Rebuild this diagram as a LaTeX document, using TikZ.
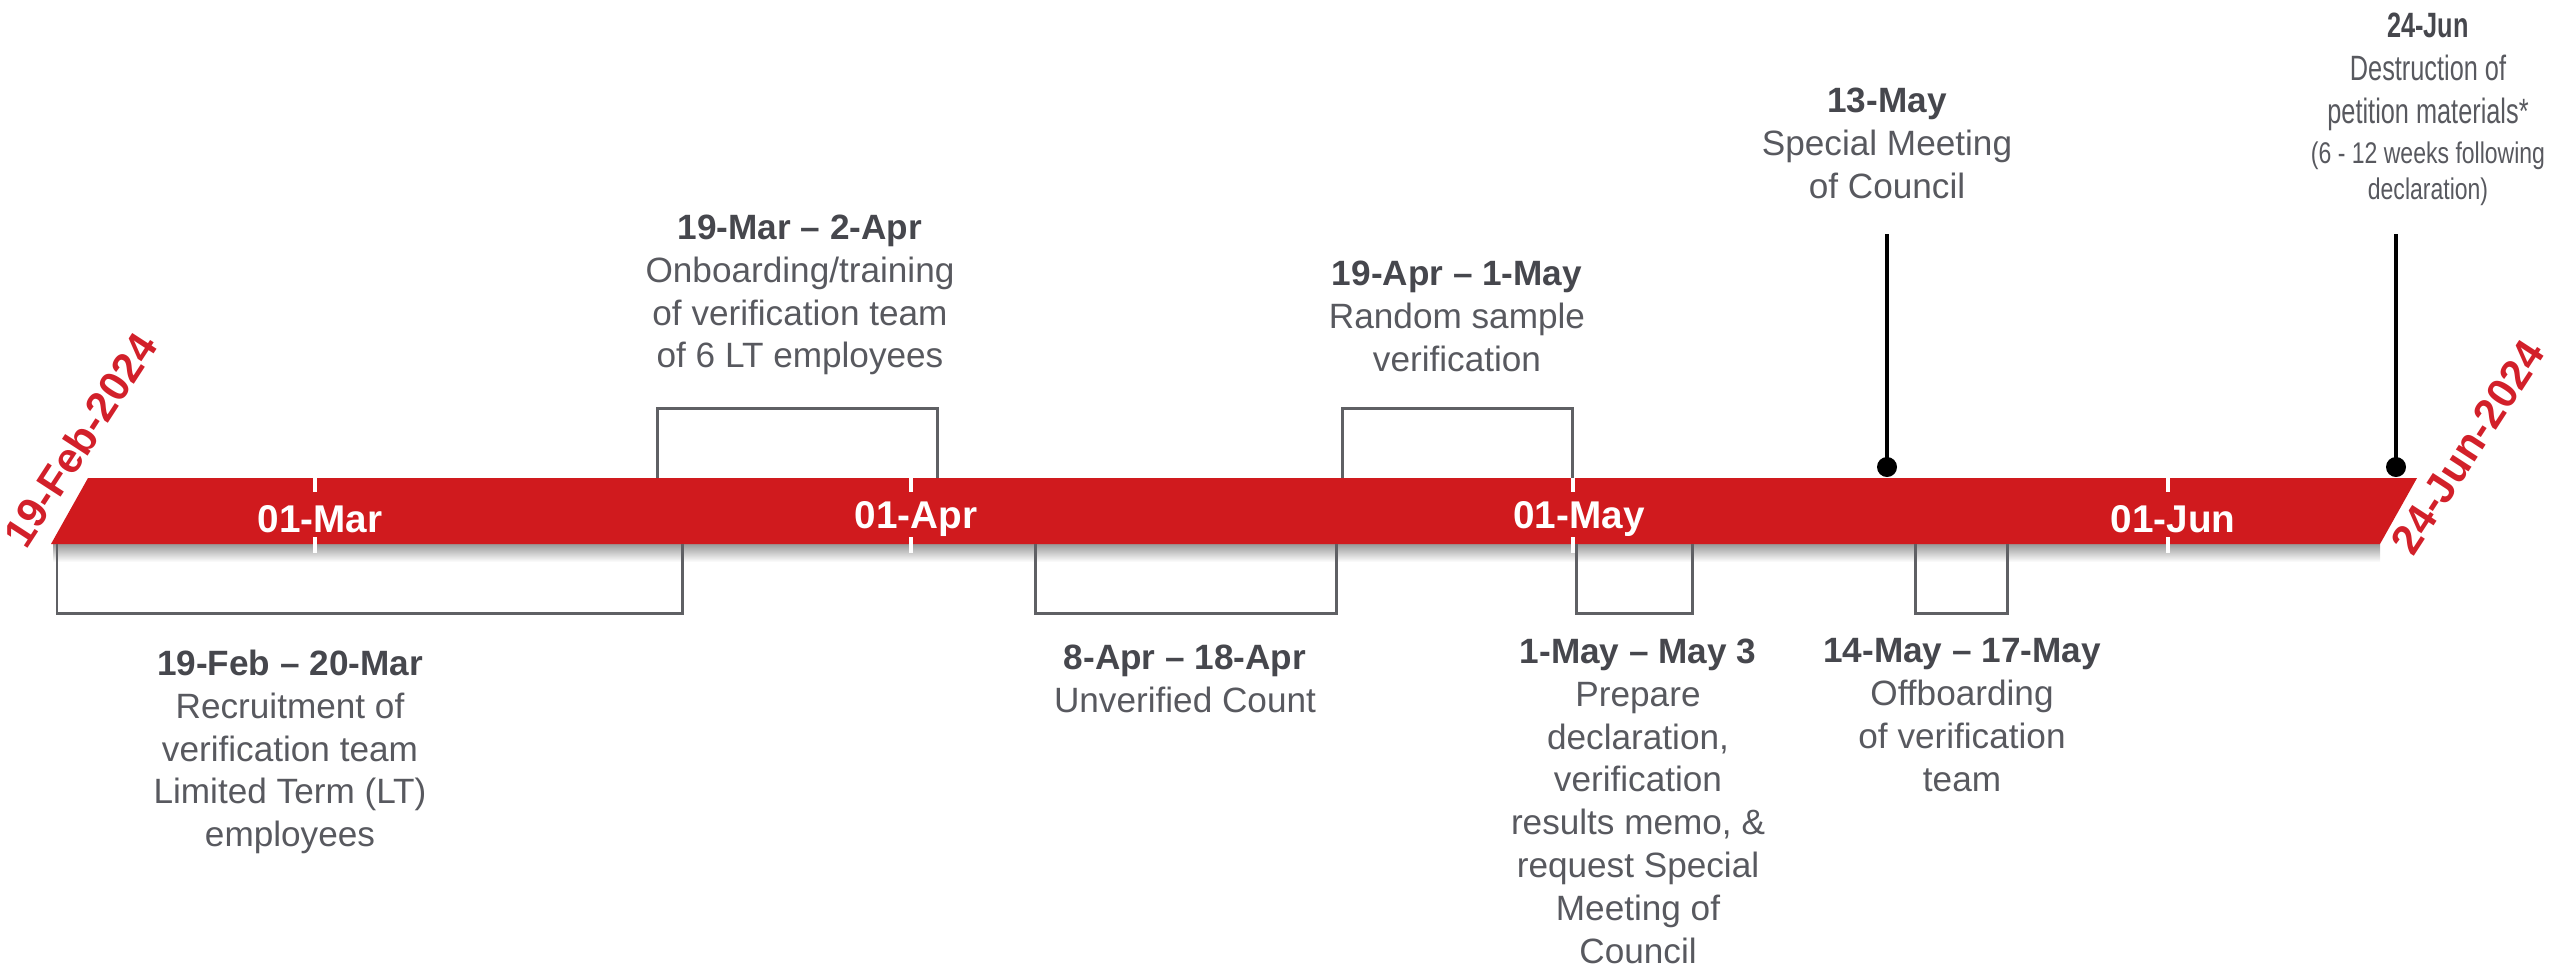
\documentclass[tikz,border=0pt]{standalone}
\usepackage{fontspec}
\setmainfont{Liberation Sans}
\newfontfamily\narrowfont[FakeStretch=0.72]{Liberation Sans}
\newfontfamily\notefont[FakeStretch=0.77]{Liberation Sans}
\definecolor{barred}{RGB}{208,26,30}
\definecolor{labred}{RGB}{210,32,42}
\definecolor{txtgray}{RGB}{88,89,95}
\definecolor{dategray}{RGB}{70,71,77}
\definecolor{brk}{RGB}{95,96,100}
\newcommand{\dt}[1]{{\bfseries\color{dategray}#1}}
\begin{document}
\begin{tikzpicture}[x=0.01cm,y=-0.01cm,
  bracket/.style={draw=brk,line width=0.85pt},
  pinline/.style={draw=black,line width=1pt},
  tickw/.style={draw=white,line width=0.9pt},
  desc/.style={align=center,inner sep=0pt,anchor=north,text=txtgray,font=\fontsize{10}{12.2}\selectfont},
  narrowdesc/.style={align=center,inner sep=0pt,anchor=north,text=txtgray,font=\narrowfont\fontsize{10}{12.2}\selectfont},
  note/.style={align=center,inner sep=0pt,anchor=north,text=txtgray,font=\notefont\fontsize{8.5}{10.2}\selectfont},
  monthlbl/.style={text=white,font=\fontsize{11}{13}\selectfont\bfseries,inner sep=0pt},
  enddate/.style={text=labred,font=\fontsize{12}{14}\selectfont\bfseries,rotate=57,inner sep=0pt}
]
\useasboundingbox (0,0) rectangle (2564,969);

% shadow and bar
\shade[top color=black!40, bottom color=white] (53,544) rectangle (2380,562);
\fill[barred] (51,544) -- (88,478) -- (2417,478) -- (2380,544) -- cycle;

% month ticks
\foreach \x in {315,911,1573,2168}{
  \draw[tickw] (\x,478) -- (\x,492);
  \draw[tickw] (\x,537) -- (\x,553);
}
\node[monthlbl] (mar) at (320,519) {01-Mar};
\node[monthlbl] (apr) at (916,519) {01-Apr};
\node[monthlbl] (may) at (1579,519) {01-May};
\node[monthlbl] (jun) at (2173,519) {01-Jun};

% end dates
\node[enddate] (start) at (80,440) {19-Feb-2024};
\node[enddate] (end) at (2468,447) {24-Jun-2024};

% brackets
\draw[bracket] (57,544) -- (57,613) -- (682,613) -- (682,544);
\draw[bracket] (657,478) -- (657,408) -- (937,408) -- (937,478);
\draw[bracket] (1342,478) -- (1342,408) -- (1572,408) -- (1572,478);
\draw[bracket] (1035,544) -- (1035,613) -- (1336,613) -- (1336,544);
\draw[bracket] (1576,544) -- (1576,613) -- (1692,613) -- (1692,544);
\draw[bracket] (1915,544) -- (1915,613) -- (2007,613) -- (2007,544);

% pins
\coordinate (p1top) at (1887,234);
\coordinate (p1) at (1887,467);
\coordinate (p2top) at (2396,234);
\coordinate (p2) at (2396,467);
\draw[pinline] (p1top) -- (p1);
\draw[pinline] (p2top) -- (p2);
\fill (p1) circle (1mm);
\fill (p2) circle (1mm);

% texts
\node[desc] (t1) at (290,649) {\dt{19-Feb – 20-Mar}\\Recruitment of\\verification team\\Limited Term (LT)\\employees};
\node[desc] (t2) at (800,214) {\dt{19-Mar – 2-Apr}\\Onboarding/training\\of verification team\\of 6 LT employees};
\node[desc] (t3) at (1457,260) {\dt{19-Apr – 1-May}\\Random sample\\verification};
\node[desc] (t4) at (1185,644) {\dt{8-Apr – 18-Apr}\\Unverified Count};
\node[desc] (t5) at (1638,638) {\dt{1-May – May 3}\\Prepare\\declaration,\\verification\\results memo, \&\\request Special\\Meeting of\\Council};
\node[desc] (t6) at (1962,638) {\dt{14-May – 17-May}\\Offboarding\\of verification\\team};
\node[desc] (t7) at (1887,87) {\dt{13-May}\\Special Meeting\\of Council};
\node[narrowdesc] (t8) at (2428,12) {\dt{24-Jun}\\Destruction of\\petition materials*};
\node[note] (t8n) at (2428,141) {(6 - 12 weeks following\\declaration)};
\end{tikzpicture}
\end{document}
